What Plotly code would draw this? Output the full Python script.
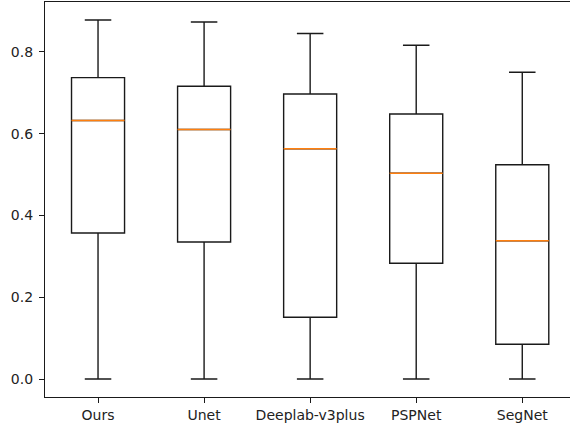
import plotly.graph_objects as go

categories = ["Ours", "Unet", "Deeplab-v3plus", "PSPNet", "SegNet"]
positions = [1, 2, 3, 4, 5]
lower_whisker = [0.0, 0.0, 0.0, 0.0, 0.0]
q1_values = [0.357, 0.335, 0.151, 0.283, 0.085]
median_values = [0.632, 0.610, 0.563, 0.503, 0.338]
q3_values = [0.737, 0.716, 0.697, 0.648, 0.524]
upper_whisker = [0.878, 0.873, 0.845, 0.816, 0.750]
y_ticks = [0.0, 0.2, 0.4, 0.6, 0.8]

box_width = 0.5
line_col = "#1a1a1a"

fig = go.Figure()
fig.add_trace(go.Box(
    x=positions,
    q1=q1_values,
    median=median_values,
    q3=q3_values,
    lowerfence=lower_whisker,
    upperfence=upper_whisker,
    width=box_width,
    whiskerwidth=0.5,
    fillcolor="white",
    line=dict(color=line_col, width=1.4),
    boxpoints=False,
    hoverinfo="skip",
    showlegend=False,
))

mx, my = [], []
for p, m in zip(positions, median_values):
    mx += [p - box_width / 2, p + box_width / 2, None]
    my += [m, m, None]
fig.add_trace(go.Scatter(
    x=mx, y=my, mode="lines",
    line=dict(color="#ff7f0e", width=1.6),
    hoverinfo="skip", showlegend=False,
))

ymax = max(upper_whisker)
pad = 0.05 * (ymax - 0.0)

fig.update_layout(
    width=570, height=428,
    margin=dict(l=45, r=0, t=2, b=31),
    paper_bgcolor="white",
    plot_bgcolor="white",
    font=dict(family="DejaVu Sans", size=14, color="#222"),
    xaxis=dict(
        range=[0.5, 5.45],
        tickmode="array",
        tickvals=positions,
        ticktext=categories,
        showgrid=False, zeroline=False,
        showline=True, linecolor=line_col, linewidth=1.3, mirror=True,
        ticks="outside", ticklen=5, tickcolor=line_col, tickwidth=1.2,
    ),
    yaxis=dict(
        range=[0.0 - pad, ymax + pad],
        tickmode="array",
        tickvals=y_ticks,
        ticktext=[f"{v:.1f}" for v in y_ticks],
        showgrid=False, zeroline=False,
        showline=True, linecolor=line_col, linewidth=1.3,
        ticks="outside", ticklen=5, tickcolor=line_col, tickwidth=1.2,
        ticklabelstandoff=3,
    ),
)

fig.write_html(
    "out.html",
    config={"displayModeBar": False},
    post_script="document.body.style.margin='0';document.body.style.overflow='hidden';",
)
